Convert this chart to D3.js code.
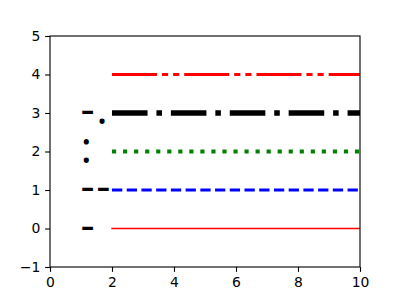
<!DOCTYPE html>
<html>
<head>
<meta charset="utf-8">
<script src="https://cdn.jsdelivr.net/npm/d3@7"></script>
<style>
  body { margin: 0; background: #fff; }
  svg { display: block; }
  .tick text { font-family: "DejaVu Sans", sans-serif; font-size: 13.9px; fill: #000; }
</style>
</head>
<body>
<div id="chart"></div>
<script>
// line styles, one per level
const levels = [0, 1, 2, 3, 4];
const lineColors = ['#ff0000', '#0000ff', '#008000', '#000000', '#ff0000'];
const lineWidths = [1, 2, 3, 4, 2]; // points
const dashPatterns = [null, [3.7, 1.6], [1, 1.65], [6.4, 1.6, 1, 1.6], [16.2, 1.8, 2.2, 1.8, 2.2, 1.8]];
const labels = ['-', '--', ':', '-.', ''];
const lineX = [2, 10];
const labelX = 1;
const xTicks = [0, 2, 4, 6, 8, 10];
const yTicks = [-1, 0, 1, 2, 3, 4, 5];

const w = 400, h = 300;
const margin = {left: 50, right: 40, top: 36, bottom: 33};
const pt = 100 / 72;

let svg = d3.select('#chart').append('svg').attr('width', w).attr('height', h);

let xScale = d3.scaleLinear().domain([0, 10]).range([margin.left, w - margin.right]);
let yScale = d3.scaleLinear().domain([-1, 5]).range([h - margin.bottom, margin.top]);

svg.append('clipPath').attr('id', 'clip')
  .append('rect')
  .attr('x', margin.left).attr('y', margin.top)
  .attr('width', w - margin.left - margin.right)
  .attr('height', h - margin.top - margin.bottom);

let line = d3.line().x(d => xScale(d[0])).y(d => yScale(d[1]));

svg.append('g').attr('clip-path', 'url(#clip)')
  .selectAll('path')
  .data(levels)
  .enter()
  .append('path')
  .attr('d', v => line(lineX.map(x => [x, v])))
  .attr('fill', 'none')
  .attr('stroke', (v, i) => lineColors[i])
  .attr('stroke-width', (v, i) => lineWidths[i] * pt)
  .attr('stroke-linecap', (v, i) => dashPatterns[i] ? 'butt' : 'square')
  .attr('stroke-dasharray', (v, i) => dashPatterns[i] ? dashPatterns[i].map(d => d * lineWidths[i] * pt).join(' ') : null);

// the style codes written next to the lines
svg.append('g')
  .selectAll('text')
  .data(levels)
  .enter()
  .append('text')
  .attr('x', xScale(labelX) - 0.5)
  .attr('y', v => yScale(v))
  .attr('dy', '0.25em')
  .style('font-family', '"Open Sans", sans-serif')
  .style('font-size', '44px')
  .style('letter-spacing', '1.5px')
  .attr('fill', '#000')
  .text((v, i) => labels[i]);

const xAxis = d3.axisBottom(xScale).tickValues(xTicks).tickSizeOuter(0).tickSize(4.86).tickPadding(4.9)
  .tickFormat(d => d);
const yAxis = d3.axisLeft(yScale).tickValues(yTicks).tickSizeOuter(0).tickSize(4.86).tickPadding(4.9)
  .tickFormat(d => d < 0 ? '\u2212' + Math.abs(d) : d);

let gx = svg.append('g')
  .attr('transform', 'translate(0,' + (h - margin.bottom) + ')')
  .call(xAxis);
let gy = svg.append('g')
  .attr('transform', 'translate(' + margin.left + ',0)')
  .call(yAxis);
[gx, gy].forEach(g => {
  g.select('.domain').remove();
  g.selectAll('.tick line').attr('stroke', '#000').attr('stroke-width', 0.8 * pt);
  g.attr('font-family', null).attr('font-size', null);
});

svg.append('rect')
  .attr('x', margin.left).attr('y', margin.top)
  .attr('width', w - margin.left - margin.right)
  .attr('height', h - margin.top - margin.bottom)
  .attr('fill', 'none')
  .attr('stroke', '#000')
  .attr('stroke-width', 0.8 * pt);
</script>
</body>
</html>
